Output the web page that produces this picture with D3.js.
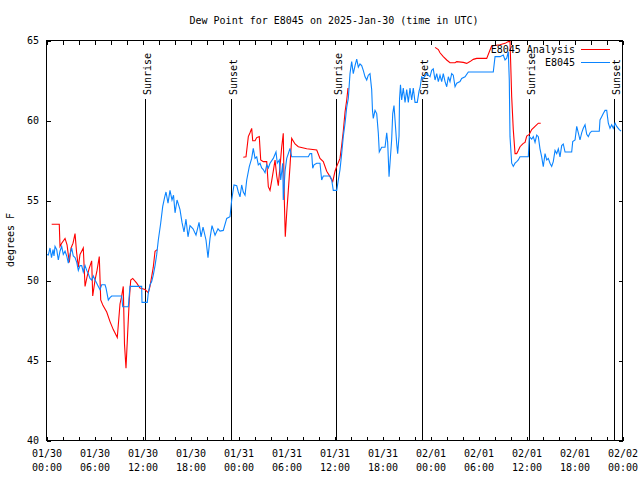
<!DOCTYPE html>
<html><head><meta charset="utf-8">
<script src="https://cdn.jsdelivr.net/npm/d3@7"></script>
<style>
body{margin:0;background:#fff;}
text{font-family:"DejaVu Sans Mono",monospace;font-size:10px;fill:#000;}
</style></head><body>
<svg id="c" width="640" height="480"></svg>
<script>
const title = "Dew Point for E8045 on 2025-Jan-30 (time in UTC)";
const yLabel = "degrees F";
const seriesNames = ["E8045 Analysis", "E8045"];
const seriesColors = ["#ff0000", "#0a84ff"];
const yTicks = [40, 45, 50, 55, 60, 65];
// hours since 2025-01-30 00:00 UTC
const blueHours = [0.13,0.29,0.5,0.69,0.88,1.0,1.13,1.34,1.54,1.75,1.96,2.16,2.38,2.59,2.79,3.0,3.21,3.41,3.63,3.84,4.04,4.25,4.46,4.66,4.88,5.09,5.29,5.5,5.71,5.91,6.13,6.34,6.54,6.75,6.96,7.38,7.5,7.79,8.0,8.21,9.46,9.59,10.29,10.5,11.96,12.0,12.66,12.79,13.0,13.21,13.41,13.63,13.84,14.04,14.34,14.59,14.84,15.0,15.25,15.5,15.75,15.94,16.13,16.38,16.63,16.75,17.0,17.25,17.5,17.75,18.0,18.38,18.75,19.13,19.38,19.63,20.0,20.25,20.5,20.75,21.13,21.5,21.75,22.16,22.59,23.0,23.21,23.5,23.84,24.04,24.25,24.46,24.66,24.88,25.09,25.41,25.71,25.91,26.13,26.34,26.54,26.75,26.96,27.16,27.38,27.59,27.79,28.0,28.41,28.75,28.91,29.16,29.34,29.59,29.66,29.88,30.09,30.29,30.5,30.71,30.91,32.79,33.0,33.21,33.34,33.5,33.84,34.25,34.46,34.66,35.5,35.71,35.91,36.34,36.54,36.75,36.96,37.16,37.38,37.59,37.79,38.0,38.21,38.41,38.63,38.84,39.04,39.25,39.46,39.66,39.88,40.09,40.29,40.5,40.71,40.81,40.91,41.13,41.34,41.54,41.66,41.96,42.38,42.59,42.71,42.88,43.0,43.21,43.34,43.5,43.63,43.84,43.96,44.13,44.19,44.31,44.46,44.66,44.88,45.09,45.29,45.5,45.71,45.91,46.13,46.41,46.63,46.75,46.96,47.16,47.59,48.0,48.21,48.41,48.63,48.84,49.04,49.25,49.46,49.66,49.88,50.09,50.29,50.5,50.71,50.91,51.13,51.34,51.75,51.96,52.38,52.79,53.21,55.91,56.13,56.75,57.16,57.38,57.59,57.79,57.91,58.0,58.21,58.41,58.63,58.84,59.04,59.25,60.29,60.41,60.71,60.91,61.13,61.34,61.54,61.75,61.96,62.16,62.38,62.59,62.79,63.0,63.21,63.41,63.63,63.84,64.04,64.25,64.46,64.66,64.88,65.71,65.84,66.13,66.34,66.54,66.75,66.96,67.16,67.38,67.59,67.79,68.0,68.21,69.16,69.25,69.46,69.66,69.88,70.09,70.29,70.5,70.71,70.91,71.13,71.34,71.66,71.88];
const blueValues = [51.6,51.56,52.0,51.4,51.9,51.5,52.1,51.9,51.25,51.8,52.1,51.6,51.8,51.5,51.06,51.6,52.0,51.5,51.4,51.1,50.6,50.9,50.9,50.5,50.9,50.6,50.4,50.1,50.0,50.25,50.0,49.8,49.6,49.4,49.7,49.7,49.5,48.75,48.9,49.0,49.0,48.33,48.33,49.6,49.6,48.6,48.6,49.2,49.7,49.9,50.3,50.9,51.6,52.5,53.56,54.6,55.2,55.5,54.8,55.6,55.0,55.3,54.2,55.0,54.6,54.4,53.6,53.0,53.8,52.7,53.4,53.2,52.8,53.6,52.7,53.3,52.5,51.4,52.6,53.4,52.8,53.2,53.06,53.1,53.85,53.96,55.0,55.94,55.9,55.5,55.2,55.94,55.5,55.3,56.25,57.08,57.6,58.23,57.6,57.7,57.2,57.3,57.0,56.9,56.7,57.2,57.0,57.3,57.6,58.0,57.3,57.5,56.25,57.3,55.0,56.8,57.6,57.9,58.23,57.7,57.7,57.7,57.9,57.9,56.98,57.2,57.3,57.3,56.25,56.5,56.5,56.25,55.6,55.6,56.25,56.9,57.9,58.96,59.8,60.8,61.35,62.9,63.65,62.9,63.4,63.8,63.3,63.5,63.4,63.1,62.7,62.5,62.8,62.9,61.9,60.6,60.1,60.6,60.4,59.17,58.0,58.3,58.3,59.2,58.6,56.46,57.3,58.8,60.4,60.9,60.0,58.5,57.9,59.0,61.3,62.2,61.25,62.0,61.1,61.9,61.1,62.0,61.25,62.0,61.1,61.1,61.8,62.0,62.7,62.6,62.9,62.7,63.1,63.2,62.5,62.9,62.4,62.8,62.4,62.9,62.4,62.08,62.7,62.4,62.9,62.8,62.08,62.3,62.4,62.6,62.7,63.0,63.0,63.0,63.96,63.96,64.06,63.75,63.86,64.27,62.5,58.96,57.3,57.1,57.3,57.4,57.5,57.7,57.7,58.96,58.8,58.96,58.6,59.06,58.96,58.2,57.7,57.08,57.9,57.5,57.6,57.3,57.1,57.4,58.1,57.9,58.2,57.7,58.4,58.5,58.0,58.0,58.65,58.75,59.6,59.2,58.75,59.2,59.48,59.7,59.1,58.96,59.2,59.3,59.3,60.0,60.2,60.4,60.6,60.6,59.8,59.48,59.7,59.48,59.8,59.6,59.4,59.3];
// null marks a gap in the analysis series
const redHours = [0.71,1.66,1.75,1.96,2.38,2.63,2.91,3.13,3.38,3.63,3.81,4.04,4.25,4.46,4.66,4.88,5.13,5.38,5.71,5.84,6.13,6.38,6.66,6.84,7.13,7.59,8.0,8.41,8.91,9.04,9.25,9.46,9.66,9.81,10.0,10.21,10.41,10.59,10.84,11.34,11.75,12.38,12.79,13.0,13.41,13.63,13.91,
 null,
 24.66,25.0,25.29,25.5,25.71,25.84,26.13,26.34,26.66,26.84,27.16,27.59,27.79,28.0,28.21,28.41,28.63,28.84,29.04,29.25,29.46,29.66,29.79,29.91,30.09,30.29,30.5,30.71,31.13,31.54,32.59,33.84,34.25,34.66,35.09,35.5,35.84,36.13,36.34,36.75,36.96,37.16,37.38,37.59,37.75,
 null,
 48.63,49.04,49.25,49.66,50.09,50.5,51.13,51.34,52.16,52.59,53.0,53.41,53.84,55.09,55.5,55.71,56.75,57.38,57.79,58.0,58.09,58.21,58.41,58.63,58.84,59.04,59.25,59.66,59.88,60.09,60.41,60.71,61.13,61.54,61.84];
const redValues = [53.48,53.48,52.1,52.3,52.6,52.2,51.1,52.0,52.3,52.9,51.8,50.8,51.6,51.8,52.0,49.6,50.2,50.7,51.2,49.0,50.0,50.6,51.46,48.75,48.4,48.0,47.4,46.9,46.4,47.2,48.5,49.0,49.6,46.0,44.48,46.7,48.75,50.0,50.1,49.8,49.5,49.4,49.2,49.6,50.8,51.8,51.9,
 null,
 57.67,57.7,58.96,59.2,59.48,58.7,58.7,58.9,58.96,57.5,57.4,57.4,55.83,55.6,56.2,56.8,57.5,56.5,55.9,57.1,58.3,59.17,55.0,52.7,54.2,55.6,57.1,58.85,58.5,58.33,58.2,58.125,57.6,57.4,56.8,56.46,56.15,56.8,57.1,57.6,58.4,59.3,60.5,61.25,62.0,
 null,
 64.54,64.4,64.2,63.96,63.75,63.58,63.58,63.65,63.6,63.54,63.65,63.79,63.85,63.85,64.375,64.625,64.7,64.79,64.9,64.9,63.5,61.46,59.4,57.9,57.9,58.1,58.33,58.54,58.6,59.0,59.1,59.4,59.6,59.8,59.8];
const sunEvents = ["Sunrise","Sunset","Sunrise","Sunset","Sunrise","Sunset"];
const sunHours = [12.41, 23.08, 36.3, 47.04, 60.33, 71.04];

const t0 = Date.UTC(2025, 0, 30);
const hToDate = h => new Date(t0 + h * 3600e3);
const svg = d3.select("#c");
const L = 46, R = 622, T = 40, B = 440;
const x = d3.scaleUtc().domain([hToDate(0), hToDate(72)]).range([L, R]);
const y = d3.scaleLinear().domain([40, 65]).range([B, T]);

svg.append("rect").attr("width", 640).attr("height", 480).attr("fill", "#fff");

// title
svg.append("text").attr("x", 334).attr("y", 24).attr("text-anchor", "middle").text(title);

const minorTicks = d3.range(0, 73, 2).map(hToDate);
const majorTicks = d3.range(0, 73, 6).map(hToDate);
const g = svg.append("g").attr("shape-rendering", "crispEdges");
// bottom & top ticks
g.append("g").attr("transform", `translate(0.5,${B + 0.5})`)
  .call(d3.axisBottom(x).tickValues(minorTicks).tickSizeInner(-4).tickSizeOuter(0).tickFormat(""))
  .call(a => a.select(".domain").remove());
g.append("g").attr("transform", `translate(0.5,${T + 0.5})`)
  .call(d3.axisTop(x).tickValues(minorTicks).tickSizeInner(-4).tickSizeOuter(0).tickFormat(""))
  .call(a => a.select(".domain").remove());
// left & right ticks
g.append("g").attr("transform", `translate(${L + 0.5},0.5)`)
  .call(d3.axisLeft(y).tickValues(yTicks).tickSizeInner(-4).tickSizeOuter(0).tickFormat(""))
  .call(a => a.select(".domain").remove());
g.append("g").attr("transform", `translate(${R + 0.5},0.5)`)
  .call(d3.axisRight(y).tickValues(yTicks).tickSizeInner(-4).tickSizeOuter(0).tickFormat(""))
  .call(a => a.select(".domain").remove());
// y labels
svg.append("g").selectAll("text").data(yTicks).join("text")
  .attr("x", 39).attr("y", d => y(d) + 4).attr("text-anchor", "end").text(d => d);
// x labels two lines
const fmt1 = d3.utcFormat("%m/%d"), fmt2 = d3.utcFormat("%H:%M");
const xl = svg.append("g").selectAll("g").data(majorTicks).join("g");
xl.append("text").attr("x", d => x(d) + 1).attr("y", 457).attr("text-anchor", "middle").text(fmt1);
xl.append("text").attr("x", d => x(d) + 1).attr("y", 471).attr("text-anchor", "middle").text(fmt2);
// y axis title
svg.append("text").attr("transform", "translate(14,240) rotate(-90)").attr("text-anchor", "middle").text(yLabel);

// sunrise/sunset lines
const se = svg.append("g");
sunHours.forEach((h, i) => {
  const xx = Math.round(x(hToDate(h))) + 0.5;
  se.append("line").attr("x1", xx).attr("x2", xx).attr("y1", 99).attr("y2", B)
    .attr("stroke", "#000").attr("shape-rendering", "crispEdges");
  se.append("text").attr("transform", `translate(${xx + 5.5},95) rotate(-90)`).text(sunEvents[i]);
});

// series
const line = d3.line().defined(d => d[0] !== null && d[1] !== null)
  .x(d => x(hToDate(d[0]))).y(d => y(d[1]));
const redData = redHours.map((h, i) => [h, redValues[i]]);
const blueData = blueHours.map((h, i) => [h, blueValues[i]]);
svg.append("path").attr("d", line(redData)).attr("fill", "none").attr("stroke", seriesColors[0]).attr("stroke-width", 1.1);
svg.append("path").attr("d", line(blueData)).attr("fill", "none").attr("stroke", seriesColors[1]).attr("stroke-width", 1.1);

// legend
[0, 1].forEach(i => {
  const yy = 49 + i * 13;
  svg.append("text").attr("x", 575).attr("y", yy + 4).attr("text-anchor", "end").text(seriesNames[i]);
  svg.append("line").attr("x1", 581).attr("x2", 610).attr("y1", yy + 0.5).attr("y2", yy + 0.5)
    .attr("stroke", seriesColors[i]).attr("shape-rendering", "crispEdges");
});

// frame
svg.append("rect").attr("x", L + 0.5).attr("y", T + 0.5).attr("width", R - L).attr("height", B - T)
  .attr("fill", "none").attr("stroke", "#000").attr("shape-rendering", "crispEdges");
</script>
</body></html>
